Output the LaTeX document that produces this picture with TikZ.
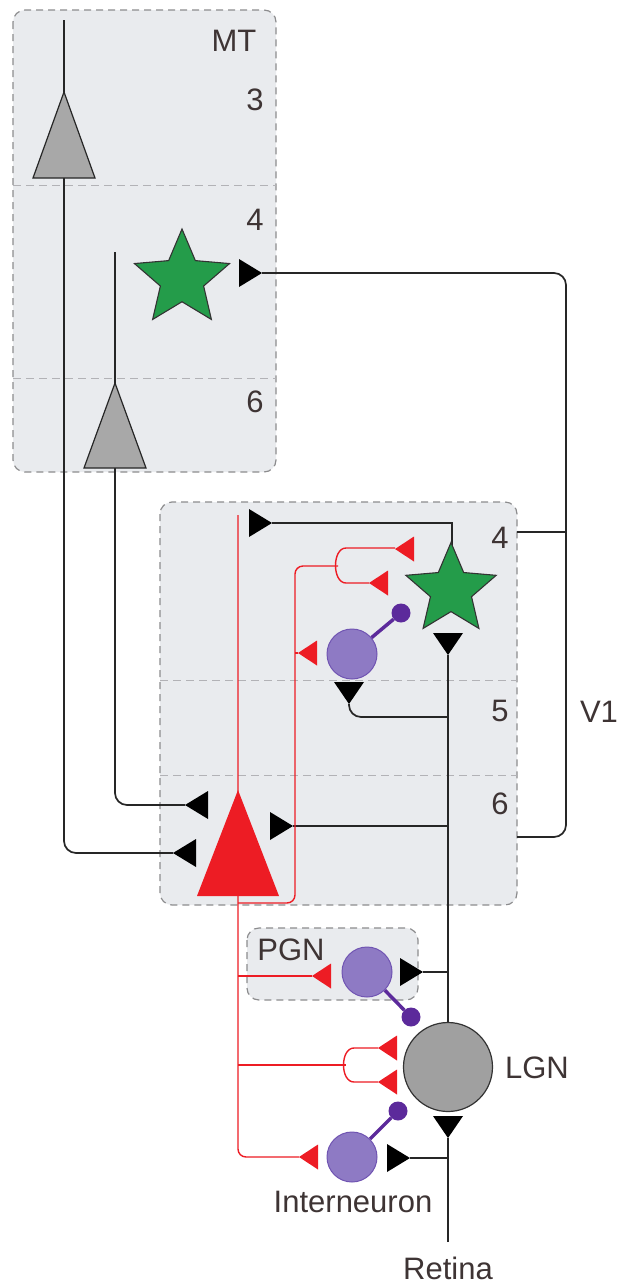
\documentclass[tikz,border=0pt]{standalone}
\usepackage{fontspec}
\setmainfont{Liberation Sans}
\usetikzlibrary{shapes.geometric}

\definecolor{boxfill}{RGB}{233,235,238}
\definecolor{boxline}{RGB}{140,140,142}
\definecolor{divline}{RGB}{178,178,182}
\definecolor{txt}{RGB}{62,52,52}
\definecolor{exred}{RGB}{237,28,36}
\definecolor{stargreen}{RGB}{36,156,74}
\definecolor{pyrgray}{RGB}{168,168,168}
\definecolor{lgngray}{RGB}{160,160,160}
\definecolor{inhfill}{RGB}{142,122,196}
\definecolor{inhline}{RGB}{112,84,178}
\definecolor{inhdark}{RGB}{92,42,155}

\tikzset{
  region/.style={draw=boxline, fill=boxfill, dash pattern=on 7pt off 5pt,
    line width=1.2pt, rounded corners=12pt},
  divider/.style={draw=divline, dash pattern=on 8pt off 5pt, line width=1pt},
  lbl/.style={text=txt, font=\fontsize{31}{36}\selectfont, inner sep=0pt},
  axon/.style={line width=1.7pt, draw=black!85, rounded corners=12pt},
  redaxon/.style={line width=1.4pt, draw=exred, rounded corners=8pt},
  pyrcell/.style={fill=pyrgray, draw=black!85, line width=1.2pt, line join=miter},
  starcell/.style={star, star points=5, star point ratio=2.2, inner sep=0pt,
    fill=stargreen, draw=black!80, line width=1.1pt},
  inhcell/.style={circle, inner sep=0pt, minimum size=50pt, fill=inhfill,
    draw=inhline, line width=1pt},
  inhbouton/.style={circle, inner sep=0pt, minimum size=19pt, fill=inhdark},
  stalk/.style={draw=inhdark, line width=3.5pt},
  % synaptic terminals: the tip sits at the pic origin
  synE/.pic={\fill[black] (0,0) -- (-23,-14) -- (-23,14) -- cycle;},
  synW/.pic={\fill[black] (0,0) -- (23,-14) -- (23,14) -- cycle;},
  synS/.pic={\fill[black] (0,0) -- (-15,-22) -- (15,-22) -- cycle;},
  rsynW/.pic={\fill[exred] (0,0) -- (19,-12.5) -- (19,12.5) -- cycle;},
}

\begin{document}
\begin{tikzpicture}[x=1pt,y=-1pt]
\useasboundingbox (0,0) rectangle (622,1286);

% ---- areas and layers ----
\draw[region] (13,10) rectangle (276,472);
\draw[divider] (13,185) -- (276,185);
\draw[divider] (13,378) -- (276,378);
\draw[region] (160,502) rectangle (517,905);
\draw[divider] (160,680) -- (517,680);
\draw[divider] (160,775) -- (517,775);
\draw[region] (247,928) rectangle (418,1000);

\node[lbl] (mt)  at (234,41)  {MT};
\node[lbl] (mt3) at (255,100) {3};
\node[lbl] (mt4) at (255,220) {4};
\node[lbl] (mt6) at (255,402) {6};
\node[lbl] (v4)  at (500,538) {4};
\node[lbl] (v5)  at (500,711) {5};
\node[lbl] (v6)  at (500,804) {6};
\node[lbl] (v1)  at (599,712) {V1};
\node[lbl] (pgn) at (291,950) {PGN};

% ---- coordinates of terminals ----
\coordinate (tMTstar) at (262,273);
\coordinate (tV1top)  at (272,523);
\coordinate (tV1six)  at (293,826);
\coordinate (tPyrA)   at (185,805);
\coordinate (tPyrB)   at (173,853);
\coordinate (tStar)   at (448,655);
\coordinate (tInhV1)  at (349,704);
\coordinate (tPGN)    at (423,972);
\coordinate (tInt)    at (410,1158);
\coordinate (tLGN)    at (448,1138);
\coordinate (retina)  at (448,1242);
\coordinate (v1L4)    at (517,532);
\coordinate (v1L6)    at (517,837);

% ---- feedforward / feedback axons ----
\draw[axon] (64,20) -- (64,853) -- (tPyrB);
\draw[axon] (115,252) -- (115,805) -- (tPyrA);
\draw[axon] (tMTstar) -- (566,273) -- (566,837) -- (v1L6);
\draw[axon, rounded corners=0pt] (v1L4) -- (566,532);
\draw[axon, rounded corners=0pt] (452,545) -- (452,523) -- (tV1top);
\draw[axon, rounded corners=0pt] (tStar) -- (448,1023);
\draw[axon] (448,717) -- (349,717) -- (tInhV1);
\draw[axon, rounded corners=0pt] (448,826) -- (tV1six);
\draw[axon, rounded corners=0pt] (448,972) -- (tPGN);
\draw[axon, rounded corners=0pt] (retina) -- (tLGN);
\draw[axon, rounded corners=0pt] (448,1158) -- (tInt);

% ---- corticothalamic / local red axons ----
\draw[redaxon] (238,515) -- (238,1157) -- (299,1157);
\draw[redaxon, rounded corners=0pt] (238,976) -- (312,976);
\draw[redaxon, rounded corners=0pt] (238,1065) -- (346,1065);
\draw[redaxon] (378,1048) -- (362,1048) .. controls (340,1048) and (340,1082) .. (362,1082) -- (378,1082);
\draw[redaxon] (238,903) -- (295,903) -- (295,566) -- (338,566);
\draw[redaxon, rounded corners=0pt] (295,653) -- (298,653);
\draw[redaxon] (395,548) -- (354,548) .. controls (332,548) and (332,583) .. (354,583) -- (369,583);

% ---- pyramidal cells ----
\draw[pyrcell] (64,92) -- (95,178) -- (33,178) -- cycle;
\draw[pyrcell] (115,383) -- (146,468) -- (84,468) -- cycle;
\fill[exred] (238,790) -- (279,896) -- (197,896) -- cycle;

% ---- stellate cells ----
\node[starcell, minimum size=100pt] (mtstar) at (182,279) {};
\node[starcell, minimum size=95pt] (v1star) at (451,590) {};

% ---- LGN relay cell ----
\node[circle, inner sep=0pt, minimum size=89pt, fill=lgngray, draw=black!80,
      line width=1.2pt] (lgn) at (448,1067) {};

% ---- inhibitory cells ----
\node[inhbouton] (v1dot)  at (401,613) {};
\node[inhcell]   (v1inh)  at (352,654) {};
\node[inhbouton] (pgndot) at (411,1017) {};
\node[inhcell]   (pgninh) at (367,972) {};
\node[inhbouton] (intdot) at (398,1111) {};
\node[inhcell]   (intinh) at (352,1157) {};
\draw[stalk] (v1inh) -- (v1dot);
\draw[stalk] (pgninh) -- (pgndot);
\draw[stalk] (intinh) -- (intdot);

% ---- synaptic terminals ----
\pic at (tMTstar) {synE};
\pic at (tV1top) {synE};
\pic at (tV1six) {synE};
\pic at (tPGN) {synE};
\pic at (tInt) {synE};
\pic at (tPyrA) {synW};
\pic at (tPyrB) {synW};
\pic at (tStar) {synS};
\pic at (tInhV1) {synS};
\pic at (tLGN) {synS};
\pic at (395,549) {rsynW};
\pic at (369,583) {rsynW};
\pic at (298,653) {rsynW};
\pic at (312,976) {rsynW};
\pic at (378,1048) {rsynW};
\pic at (378,1082) {rsynW};
\pic at (299,1157) {rsynW};

% ---- labels below ----
\node[lbl] (lgnlbl) at (537,1068) {LGN};
\node[lbl] (intlbl) at (353,1202) {Interneuron};
\node[lbl] (retlbl) at (448,1268) {Retina};
\end{tikzpicture}
\end{document}
